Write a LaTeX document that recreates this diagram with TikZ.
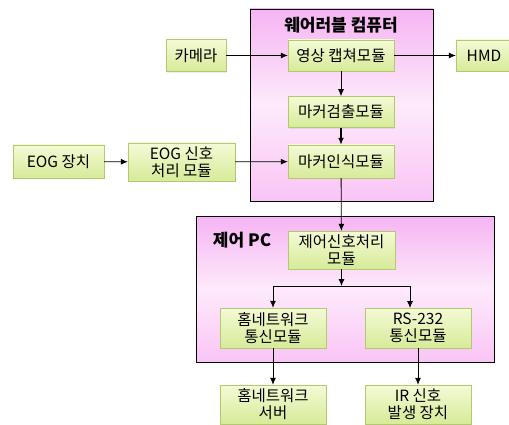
\documentclass[tikz,border=0pt]{standalone}
\usepackage{fontspec}
\setmainfont{Noto Sans CJK KR}
\usepackage{tikz}
\usetikzlibrary{arrows.meta,positioning,shadows}

\definecolor{boxline}{HTML}{B2C96E}
\definecolor{boxtop}{HTML}{F4FAD6}
\definecolor{boxbottom}{HTML}{D6EB98}
\definecolor{pinktop}{HTML}{F6B4F3}
\definecolor{pinkmid}{HTML}{FDEAFB}
\definecolor{pinkbottom}{HTML}{FAC4F6}

\begin{document}
\begin{tikzpicture}[x=1pt,y=-1pt,>={Latex[length=7pt,width=6pt]},font=\fontsize{15.5}{17}\selectfont]
		\tikzstyle{module}=[rectangle, draw=boxline, top color=boxtop, bottom color=boxbottom, minimum width=106pt, minimum height=31pt, align=center, inner sep=0.5pt, drop shadow={opacity=0.15, shadow xshift=1.2pt, shadow yshift=-1.2pt}]
		\tikzstyle{group}=[draw=black, line width=0.8pt, top color=pinktop, bottom color=pinkbottom, middle color=pinkmid]
		\tikzstyle{title}=[font=\fontsize{17}{19}\selectfont\bfseries]
		\tikzstyle{link}=[->, line width=0.8pt]

		\useasboundingbox (0,0) rectangle (509,425);

		% containers
		\draw [group] (250,9) rectangle (433,201);
		\draw [group] (196,216) rectangle (494,362);
		\node [title] (wtitle) at (341,25) {웨어러블 컴퓨터};
		\node [title] (ptitle) at (242,240) {제어 PC};

		% wearable computer
		\node [module] (capture) at (341,55.5) {영상 캡쳐모듈};
		\node [module] (detect) [below=25pt of capture] {마커검출모듈};
		\node [module, minimum height=33pt] (recog) at (341,161.5) {마커인식모듈};
		\node [module, minimum width=60pt, minimum height=32pt] (camera) at (196,55.5) {카메라};
		\node [module, minimum width=56pt] (hmd) at (484,55.5) {HMD};
		\node [module, minimum width=91pt, minimum height=33pt] (eogdev) at (58.5,161.5) {EOG 장치};
		\node [module, minimum width=107pt, minimum height=38pt] (eogproc) at (181.5,162) {EOG 신호\\처리 모듈};

		% control pc
		\node [module, minimum width=107pt, minimum height=38pt] (ctrl) at (341.5,250) {제어신호처리\\모듈};
		\node [module, minimum height=40pt] (homecomm) at (273,328) {홈네트워크\\통신모듈};
		\node [module, minimum height=40pt] (rscomm) at (418,328) {RS-232\\통신모듈};
		\node [module, minimum height=39pt] (server) at (273,404.5) {홈네트워크\\서버};
		\node [module, minimum height=39pt] (ir) at (418,404.5) {IR 신호\\발생 장치};

		\coordinate (split) at (341.5,286);
		\coordinate (rsin) at (410,308);

		\draw [link] (camera) -- (capture);
		\draw [link] (capture) -- (hmd);
		\draw [link] (capture) -- (detect);
		\draw [link, line width=1.6pt] (detect) -- (recog);
		\draw [link] (eogdev) -- (eogproc);
		\draw [link] (eogproc) -- (recog);
		\draw [link] (recog) -- (ctrl);
		\draw [link] (ctrl) -- (split);
		\draw [link] (split) -| (homecomm);
		\draw [link] (split) -| (rsin);
		\draw [link] (homecomm) -- (server);
		\draw [link] (rscomm) -- (ir);
	\end{tikzpicture}
\end{document}
